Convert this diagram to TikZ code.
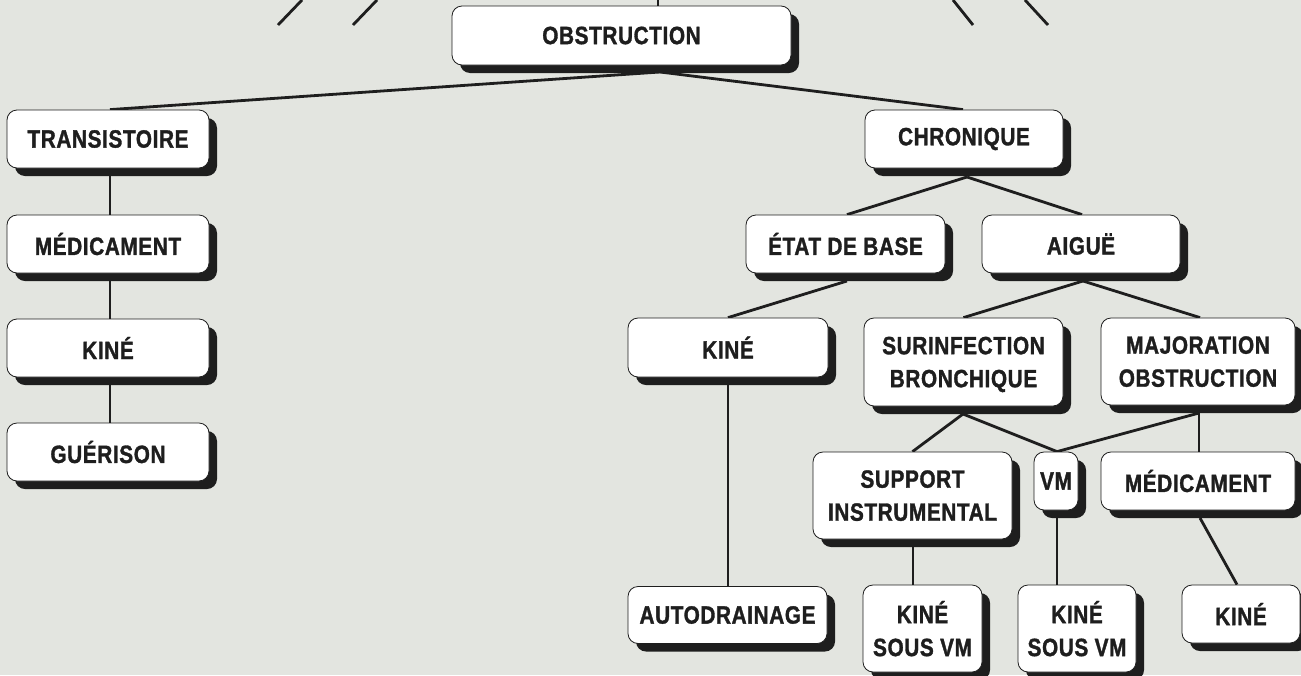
\documentclass[tikz,border=0pt]{standalone}
\usepackage{fontspec}
\setmainfont{Liberation Sans}[FakeStretch=0.87]
\newfontfamily\lblfont{Liberation Sans Bold}[FakeStretch=0.83, FakeBold=1.3, LetterSpace=2.5]
\usetikzlibrary{shadows,calc}
\definecolor{bgc}{RGB}{227,229,224}
\definecolor{ink}{RGB}{30,30,30}
\pgfdeclarelayer{back}
\pgfsetlayers{back,main}
\begin{document}
\begin{tikzpicture}[x=1pt,y=-1pt,
  box/.style={draw=ink, line width=0.8pt, fill=white, rounded corners=10pt,
    inner sep=0pt, align=center, text=ink,
    font=\fontsize{25}{33}\selectfont\lblfont,
    drop shadow={shadow xshift=8pt, shadow yshift=-8pt, fill=ink, opacity=1}},
  twoline/.style={box, text depth=0pt},
  conn/.style={line width=2.8pt, draw=ink}]
\useasboundingbox (0,0) rectangle (1301,675);
% nodes
\node[box, minimum width=339pt, minimum height=59pt] (obs) at (621.5,35.5) {OBSTRUCTION};
\node[box, minimum width=202pt, minimum height=58pt] (tra) at (108,139) {TRANSISTOIRE};
\node[box, minimum width=202pt, minimum height=58pt] (med1) at (108,244) {MÉDICAMENT};
\node[box, minimum width=202pt, minimum height=58pt] (kin1) at (108,348) {KINÉ};
\node[box, minimum width=202pt, minimum height=58pt] (gue) at (108,452) {GUÉRISON};
\node[box, minimum width=198pt, minimum height=58pt] (chr) at (964,139) {CHRONIQUE};
\node[box, minimum width=199pt, minimum height=58pt] (eta) at (845.5,244) {ÉTAT DE BASE};
\node[box, minimum width=198pt, minimum height=58pt] (aig) at (1081,244) {AIGUË};
\node[box, minimum width=200pt, minimum height=59pt] (kin2) at (728,347.5) {KINÉ};
\node[twoline, minimum width=199pt, minimum height=88pt] (sur) at (963.5,362) {SURINFECTION\\BRONCHIQUE};
\node[twoline, minimum width=194pt, minimum height=87pt] (maj) at (1198,361.5) {MAJORATION\\OBSTRUCTION};
\node[twoline, minimum width=199pt, minimum height=87pt] (sup) at (912.5,495.5) {SUPPORT\\INSTRUMENTAL};
\node[box, minimum width=44pt, minimum height=58pt] (vm) at (1056,481) {VM};
\node[box, minimum width=194pt, minimum height=58pt] (med2) at (1198,481) {MÉDICAMENT};
\node[box, minimum width=199pt, minimum height=57pt] (aut) at (727.5,615) {AUTODRAINAGE};
\node[twoline, minimum width=119pt, minimum height=87pt] (ksv1) at (922.5,628.5) {KINÉ\\SOUS VM};
\node[twoline, minimum width=118pt, minimum height=87pt] (ksv2) at (1077,628.5) {KINÉ\\SOUS VM};
\node[box, minimum width=118pt, minimum height=58pt] (kin3) at (1241,614) {KINÉ};
% junction points at shadow bottoms
\coordinate (obsJ) at (660,72);
\coordinate (chrJ) at (967,177);
\coordinate (etaJ) at (847,281);
\coordinate (aigJ) at (1083,281);
\coordinate (kin2J) at (728,385);
\coordinate (surJ) at (963,414);
\coordinate (majJ) at (1199,413);
\coordinate (supJ) at (913,547);
\coordinate (vmJ) at (1057,517);
\coordinate (med2J) at (1200,518);
\coordinate (obsT) at (658,0);
% stray connector fragments at the top edge
\coordinate (s1a) at (302,0); \coordinate (s1b) at (278,25);
\coordinate (s2a) at (377,0); \coordinate (s2b) at (353,25);
\coordinate (s3a) at (953,0); \coordinate (s3b) at (973,25);
\coordinate (s4a) at (1025,0); \coordinate (s4b) at (1048,25);
\begin{pgfonlayer}{back}
\fill[bgc] (0,0) rectangle (1301,675);
\draw[conn] (s1a) -- (s1b);
\draw[conn] (s2a) -- (s2b);
\draw[conn] (s3a) -- (s3b);
\draw[conn] (s4a) -- (s4b);
\draw[conn] (obsT) -- (obsT |- obs.north);
\draw[conn] (obsJ) -- ([xshift=2pt]tra.north);
\draw[conn] (obsJ) -- ([xshift=-1pt]chr.north);
\draw[conn] ([xshift=2pt]tra.south) -- ([xshift=2pt]med1.north);
\draw[conn] ([xshift=2pt]med1.south) -- ([xshift=2pt]kin1.north);
\draw[conn] ([xshift=2pt]kin1.south) -- ([xshift=2pt]gue.north);
\draw[conn] (chrJ) -- ([xshift=1.5pt]eta.north);
\draw[conn] (chrJ) -- ([xshift=1pt]aig.north);
\draw[conn] (etaJ) -- (kin2.north);
\draw[conn] (kin2J) -- (aut.north -| kin2J);
\draw[conn] (aigJ) -- (sur.north);
\draw[conn] (aigJ) -- ([xshift=2pt]maj.north);
\draw[conn] (surJ) -- (sup.north);
\draw[conn] (surJ) -- ([xshift=1pt]vm.north);
\draw[conn] (majJ) -- ([xshift=1pt]vm.north);
\draw[conn] (majJ) -- (med2.north -| majJ);
\draw[conn] (supJ) -- (ksv1.north -| supJ);
\draw[conn] (vmJ) -- (ksv2.north -| vmJ);
\draw[conn] (med2J) -- ([xshift=-4pt]kin3.north);
\end{pgfonlayer}
\end{tikzpicture}
\end{document}
